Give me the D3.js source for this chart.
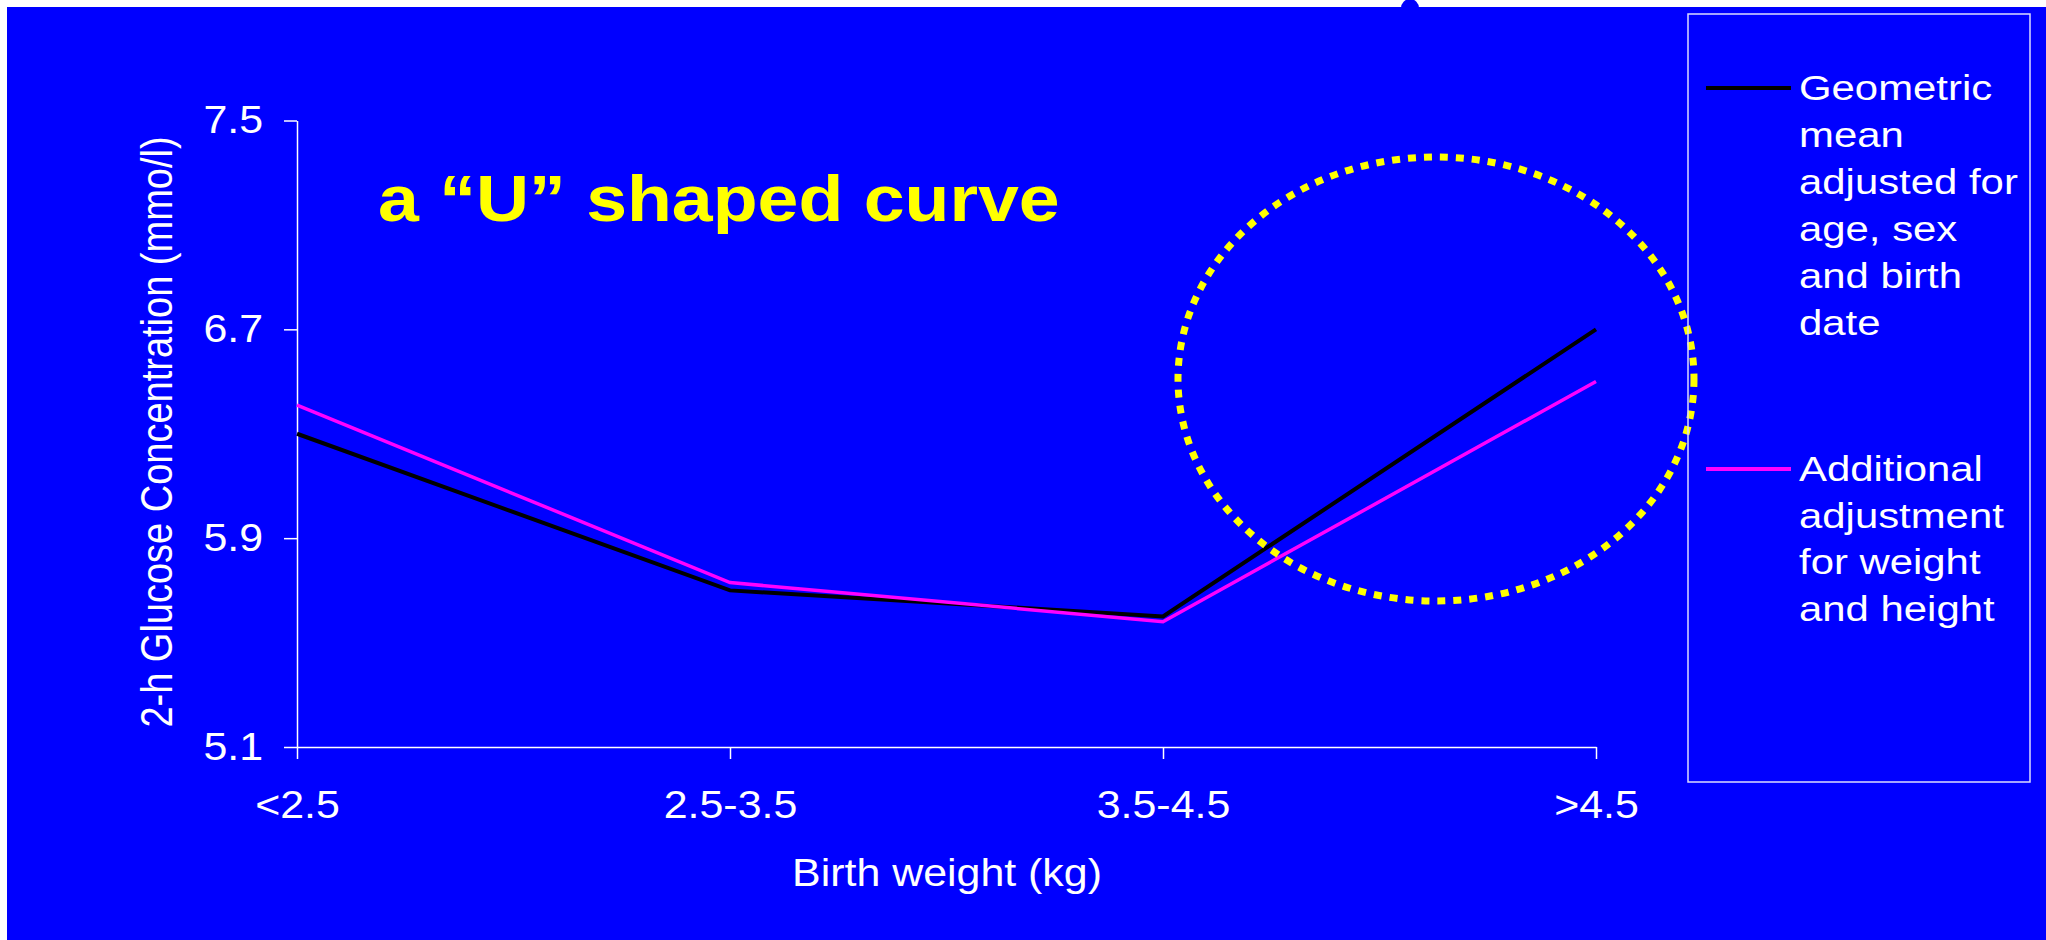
<!DOCTYPE html>
<html>
<head>
<meta charset="utf-8">
<script src="https://cdn.jsdelivr.net/npm/d3@7"></script>
<style>
  html, body { margin: 0; padding: 0; background: #fff; }
  svg { display: block; }
</style>
</head>
<body>
<svg id="chart" width="2046" height="940"></svg>
<script>
// data
const categories = ['<2.5', '2.5-3.5', '3.5-4.5', '>4.5'];
const geometricMean = [6.30, 5.70, 5.60, 6.70];
const additionalAdj = [6.41, 5.73, 5.58, 6.50];
const yTicks = [5.1, 5.9, 6.7, 7.5];
const legendGeo = ['Geometric', 'mean', 'adjusted for', 'age, sex', 'and birth', 'date'];
const legendAdd = ['Additional', 'adjustment', 'for weight', 'and height'];

const font = '"Liberation Sans", Arial, sans-serif';
const svg = d3.select('#chart');

// blue slide background
svg.append('rect').attr('x', 7).attr('y', 7).attr('width', 2039).attr('height', 933).attr('fill', '#0000ff');
svg.append('ellipse').attr('cx', 1410).attr('cy', 8).attr('rx', 9).attr('ry', 9).attr('fill', '#0000ff');

// scales
const x = d3.scalePoint().domain(categories).range([297, 1596]);
const y = d3.scaleLinear().domain([5.1, 7.5]).range([747, 120.5]);

// axes
const tickStretch = 1.1;
const yAxis = svg.append('g').attr('transform', 'translate(297,0)')
  .call(d3.axisLeft(y).tickValues(yTicks).tickSize(13).tickSizeOuter(0).tickPadding(21).tickFormat(d3.format('.1f')));
const xAxis = svg.append('g').attr('transform', 'translate(0,747)')
  .call(d3.axisBottom(x).tickSize(12).tickSizeOuter(0).tickPadding(31));

[yAxis, xAxis].forEach(function(g){
  g.attr('color', 'white').attr('font-size', 39).attr('font-family', font);
  g.selectAll('line, path').attr('stroke-width', 1.5);
  g.selectAll('text').attr('transform', 'scale(' + tickStretch + ',1)');
});
// keep the y labels' right edge in place after stretching
yAxis.selectAll('text').attr('x', -34 / tickStretch);

// stretched text helper (slide text is a bit wider than the plain font)
function stext(txt, px, py, size, sx, opts){
  opts = opts || {};
  return svg.append('text')
    .attr('transform', 'translate(' + px + ',' + py + ')' + (opts.rotate ? ' rotate(-90) scale(1,' + sx + ')' : ' scale(' + sx + ',1)'))
    .attr('text-anchor', opts.anchor || 'start')
    .attr('font-family', font)
    .attr('font-size', size)
    .attr('font-weight', opts.bold ? 'bold' : 'normal')
    .attr('fill', opts.fill || 'white')
    .text(txt);
}

// axis titles
stext('Birth weight (kg)', 947, 886, 39, 1.1, {anchor: 'middle'});
stext('2-h Glucose Concentration (mmo/l)', 172, 432, 38, 1.15, {anchor: 'middle', rotate: true});

// series lines
const line = d3.line().x((d, i) => x(categories[i])).y(d => y(d));
svg.append('path').datum(geometricMean).attr('d', line)
  .attr('fill', 'none').attr('stroke', '#000000').attr('stroke-width', 4);
svg.append('path').datum(additionalAdj).attr('d', line)
  .attr('fill', 'none').attr('stroke', '#ff00ff').attr('stroke-width', 3.5);

// title
stext('a \u201cU\u201d shaped curve', 378, 221, 64, 1.148, {bold: true, fill: '#ffff00'});

// yellow dotted ellipse
svg.append('ellipse').attr('cx', 1436).attr('cy', 379).attr('rx', 258).attr('ry', 222)
  .attr('fill', 'none').attr('stroke', '#ffff00').attr('stroke-width', 7).attr('stroke-dasharray', '8 8');

// legend
svg.append('rect').attr('x', 1688).attr('y', 14).attr('width', 342).attr('height', 768)
  .attr('fill', 'none').attr('stroke', '#dcdcff').attr('stroke-width', 1.5);
svg.append('line').attr('x1', 1706).attr('x2', 1791).attr('y1', 88).attr('y2', 88)
  .attr('stroke', '#000000').attr('stroke-width', 4);
svg.append('line').attr('x1', 1706).attr('x2', 1791).attr('y1', 469).attr('y2', 469)
  .attr('stroke', '#ff00ff').attr('stroke-width', 4);
legendGeo.forEach(function(t, i){ stext(t, 1799, 100 + i * 47, 35.5, 1.18); });
legendAdd.forEach(function(t, i){ stext(t, 1799, 481 + i * 46.7, 35.5, 1.18); });
</script>
</body>
</html>
